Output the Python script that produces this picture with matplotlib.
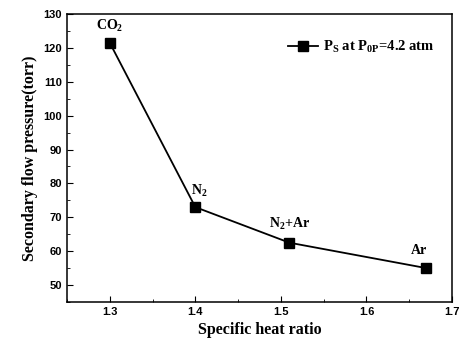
import matplotlib.pyplot as plt
from matplotlib.ticker import MultipleLocator

gamma = [1.3, 1.4, 1.51, 1.67]
pressure = [121.5, 73.0, 62.5, 55.0]
gases = ['CO$_2$', 'N$_2$', 'N$_2$+Ar', 'Ar']

plt.rcParams['mathtext.fontset'] = 'custom'
plt.rcParams['mathtext.rm'] = 'Liberation Serif:bold'
plt.rcParams['mathtext.it'] = 'Liberation Serif:bold'
plt.rcParams['mathtext.bf'] = 'Liberation Serif:bold'

fig = plt.figure(figsize=(4.65, 3.45), dpi=100)
ax = fig.add_axes([67 / 465, 43 / 345, 385 / 465, 288 / 345])

ax.plot(gamma, pressure, color='black', lw=1.3, marker='s', ms=6.5,
        label='P$_S$ at P$_{0P}$=4.2 atm')

offs = [(0, 6), (3, 6), (0, 8), (-5, 8)]
for x, y, g, o in zip(gamma, pressure, gases, offs):
    ax.annotate(g, (x, y), xytext=o, textcoords='offset points', ha='center',
                va='bottom', fontsize=10, fontweight='bold', family='Liberation Serif')

ax.set_xlim(1.25, 1.7)
ax.set_ylim(45, 130)
ax.xaxis.set_major_locator(MultipleLocator(0.1))
ax.xaxis.set_minor_locator(MultipleLocator(0.05))
ax.yaxis.set_major_locator(MultipleLocator(10))
ax.yaxis.set_minor_locator(MultipleLocator(5))
ax.tick_params(which='both', direction='in', labelsize=8)
ax.tick_params(which='major', length=4)
ax.tick_params(which='minor', length=2)
for s in ax.spines.values():
    s.set_linewidth(1.1)
for lb in ax.get_xticklabels() + ax.get_yticklabels():
    lb.set_fontweight('bold')
    lb.set_family('Liberation Sans')

ax.set_xlabel('Specific heat ratio', fontsize=11.5, fontweight='bold', family='Liberation Serif')
ax.set_ylabel('Secondary flow pressure(torr)', fontsize=11.5, fontweight='bold', family='Liberation Serif')

leg = ax.legend(loc='upper right', frameon=False, fontsize=10.5, handlelength=2.0,
                handletextpad=0.4, bbox_to_anchor=(0.99, 0.96))
for t in leg.get_texts():
    t.set_fontweight('bold')
    t.set_family('Liberation Serif')

fig.savefig('out.png', dpi=100)
